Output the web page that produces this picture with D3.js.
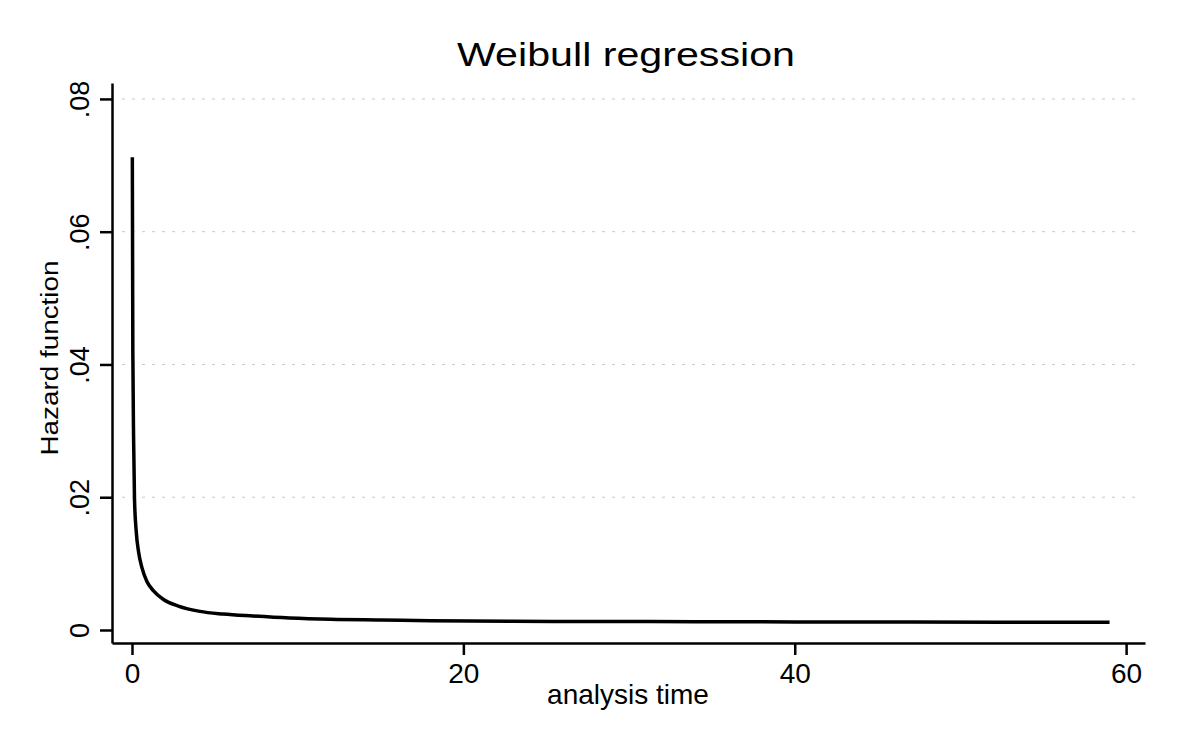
<!DOCTYPE html>
<html>
<head>
<meta charset="utf-8">
<script src="https://cdn.jsdelivr.net/npm/d3@7"></script>
<style>
  body { margin: 0; background: #fff; }
  text { font-family: "Liberation Sans", Arial, sans-serif; fill: #000; }
</style>
</head>
<body>
<div id="chart"></div>
<script>
// analysis time and fitted hazard
var times = [0.02, 0.05, 0.1, 0.15, 0.25, 0.4, 0.6, 0.9, 1.3, 1.9, 2.8, 4.1, 5.5, 7.3, 9.5, 12, 15, 18, 23, 28, 34, 40, 47, 53, 59];
var hazard = [0.0712, 0.0420, 0.0283, 0.0198, 0.0150, 0.0117, 0.0094, 0.0073, 0.0059, 0.0046, 0.0036, 0.0028, 0.0024, 0.0021, 0.0018, 0.0016, 0.0015, 0.0014, 0.0013, 0.00128, 0.00125, 0.00122, 0.0012, 0.00118, 0.00116];
var xTicks = [0, 20, 40, 60];
var yTicks = [0, 0.02, 0.04, 0.06, 0.08];
var yTickLabels = ["0", ".02", ".04", ".06", ".08"];

var width = 1177, height = 737;
var svg = d3.select("#chart").append("svg")
    .attr("width", width)
    .attr("height", height);

var x = d3.scaleLinear().domain([-1.207, 61.14]).range([112, 1145]);
var y = d3.scaleLinear().domain([-0.00196, 0.0824]).range([643, 83]);

// grid lines
svg.append("g").selectAll("line")
    .data(yTicks.slice(1))
    .enter()
    .append("line")
    .attr("x1", 122)
    .attr("x2", 1140)
    .attr("y1", function(d) { return y(d); })
    .attr("y2", function(d) { return y(d); })
    .attr("stroke", "#c8c8c8")
    .attr("stroke-width", 1)
    .attr("stroke-dasharray", "3,7");

// y axis
var yAxis = svg.append("g")
    .attr("transform", "translate(112,0)")
    .call(d3.axisLeft(y).tickValues(yTicks).tickSize(12).tickSizeOuter(0)
        .tickFormat(function(d, i) { return yTickLabels[i]; }));
yAxis.select(".domain").attr("stroke", "#000").attr("stroke-width", 2.5);
yAxis.selectAll(".tick line").attr("stroke", "#000").attr("stroke-width", 2.5);
yAxis.selectAll(".tick text")
    .attr("x", 0)
    .attr("y", -23)
    .attr("dy", 0)
    .attr("transform", "rotate(-90)")
    .style("text-anchor", "middle")
    .style("font-size", "27px")
    .style("font-family", "Liberation Sans, Arial, sans-serif");

// x axis
var xAxis = svg.append("g")
    .attr("transform", "translate(0,643)")
    .call(d3.axisBottom(x).tickValues(xTicks).tickSize(12).tickSizeOuter(0)
        .tickFormat(d3.format("d")));
xAxis.select(".domain").attr("stroke", "#000").attr("stroke-width", 2.5);
xAxis.selectAll(".tick line").attr("stroke", "#000").attr("stroke-width", 2.5);
xAxis.selectAll(".tick text")
    .attr("y", 40)
    .attr("dy", 0)
    .style("font-size", "28px")
    .style("font-family", "Liberation Sans, Arial, sans-serif");

// hazard curve
var line = d3.line()
    .x(function(d, i) { return x(times[i]); })
    .y(function(d) { return y(d); })
    .curve(d3.curveMonotoneX);

svg.append("path")
    .datum(hazard)
    .attr("d", line)
    .attr("fill", "none")
    .attr("stroke", "#000")
    .attr("stroke-width", 3.5);

// titles
svg.append("text")
    .attr("x", 626)
    .attr("y", 66)
    .attr("text-anchor", "middle")
    .attr("textLength", 338)
    .attr("lengthAdjust", "spacingAndGlyphs")
    .style("font-size", "34px")
    .text("Weibull regression");

svg.append("text")
    .attr("x", 628)
    .attr("y", 704)
    .attr("text-anchor", "middle")
    .style("font-size", "28px")
    .text("analysis time");

svg.append("text")
    .attr("transform", "translate(58,358) rotate(-90)")
    .attr("text-anchor", "middle")
    .attr("textLength", 195)
    .attr("lengthAdjust", "spacingAndGlyphs")
    .style("font-size", "23px")
    .text("Hazard function");
</script>
</body>
</html>
